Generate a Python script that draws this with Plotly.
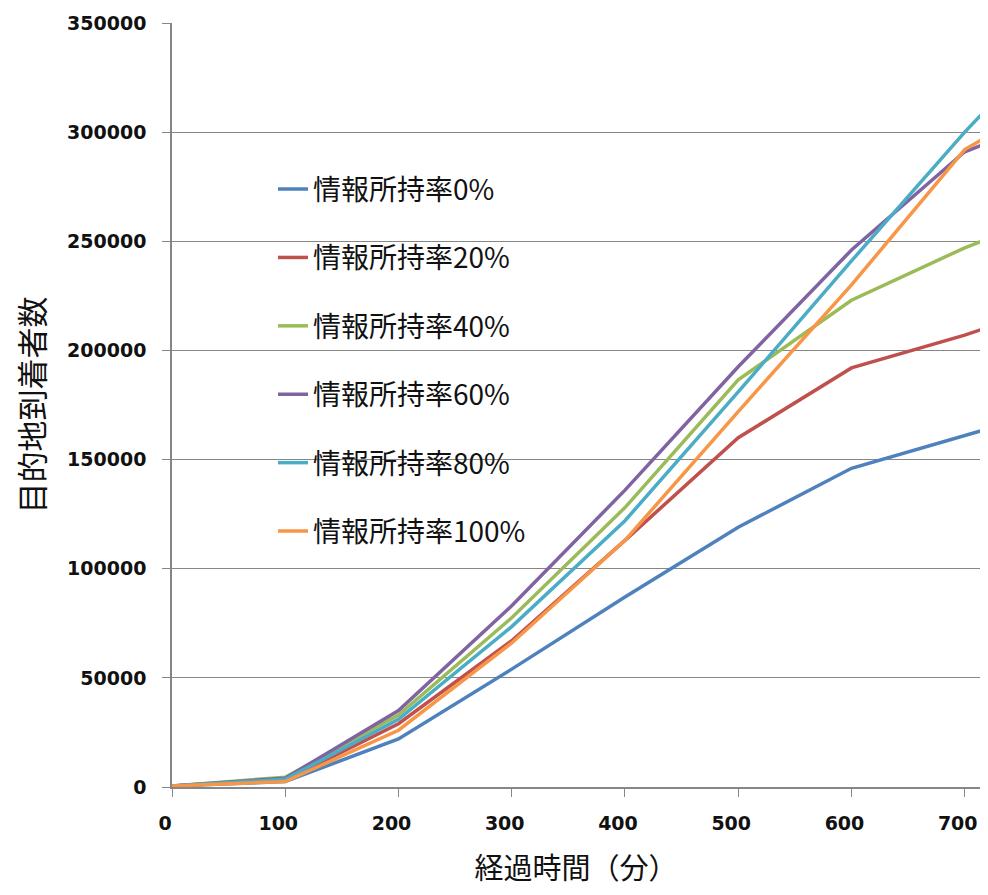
import plotly.graph_objects as go

minutes = [0, 100, 200, 300, 400, 500, 600, 700, 720]
series_names = ["情報所持率0%", "情報所持率20%", "情報所持率40%", "情報所持率60%", "情報所持率80%", "情報所持率100%"]
rate_0 = [500, 2500, 22000, 54000, 87000, 119000, 146000, 161000, 164000]
rate_20 = [500, 3000, 29000, 67000, 113000, 160000, 192000, 207000, 210500]
rate_40 = [500, 4500, 33000, 77500, 128000, 186500, 223000, 247000, 251000]
rate_60 = [500, 4000, 35000, 83000, 136000, 192500, 246000, 291000, 295000]
rate_80 = [500, 3500, 31000, 73500, 122000, 181000, 241000, 300000, 311000]
rate_100 = [500, 2500, 26000, 66000, 113000, 172000, 230000, 292000, 298000]
colors = ["#4F81BD", "#C0504D", "#9BBB59", "#8064A2", "#4BACC6", "#F79646"]
y_ticks = [0, 50000, 100000, 150000, 200000, 250000, 300000, 350000]
y_labels = ["0", "50000", "100000", "150000", "200000", "250000", "300000", "350000"]
x_ticks = [0, 100, 200, 300, 400, 500, 600, 700]

fig = go.Figure()
for i, (name, vals) in enumerate(zip(series_names, [rate_0, rate_20, rate_40, rate_60, rate_80, rate_100])):
    fig.add_trace(go.Scatter(x=minutes, y=vals, mode="lines", name=name,
                             legendgroup=f"g{i}",
                             line=dict(color=colors[i], width=3.5)))

tick_font = dict(family="DejaVu Sans", size=19, color="#111111", weight="bold")
cjk = "Noto Sans CJK JP"
fig.update_layout(
    width=972, height=879,
    margin=dict(l=164, r=0, t=15, b=100, autoexpand=False),
    paper_bgcolor="white", plot_bgcolor="white",
    showlegend=True,
    legend=dict(x=0.125, y=0.815, xanchor="left", yanchor="top",
                bgcolor="rgba(0,0,0,0)", font=dict(family=cjk, size=28, color="#111111"),
                tracegroupgap=29, itemwidth=30),
    xaxis=dict(range=[0, 713.5], tickvals=x_ticks, ticks="outside", ticklen=8, tickcolor="#868686",
               showline=True, linecolor="#868686", linewidth=1.5, showgrid=False, zeroline=False,
               tickfont=tick_font, ticklabelstandoff=10, ticklabelshift=-7, automargin=False,
               ticklabeloverflow="allow",
               title=dict(text="経過時間（分）", font=dict(family=cjk, size=29, color="#111111"), standoff=33)),
    yaxis=dict(range=[0, 350000], tickvals=y_ticks, ticktext=y_labels, ticks="outside", ticklen=8,
               tickcolor="#868686", showline=True, linecolor="#868686", linewidth=1.5, showgrid=True,
               gridcolor="#868686", gridwidth=1.3, zeroline=False, tickfont=tick_font,
               ticklabelstandoff=12, automargin=False,
               title=dict(text="目的地到着者数", font=dict(family=cjk, size=31, color="#111111"), standoff=42)),
)
fig.write_html("out.html")
